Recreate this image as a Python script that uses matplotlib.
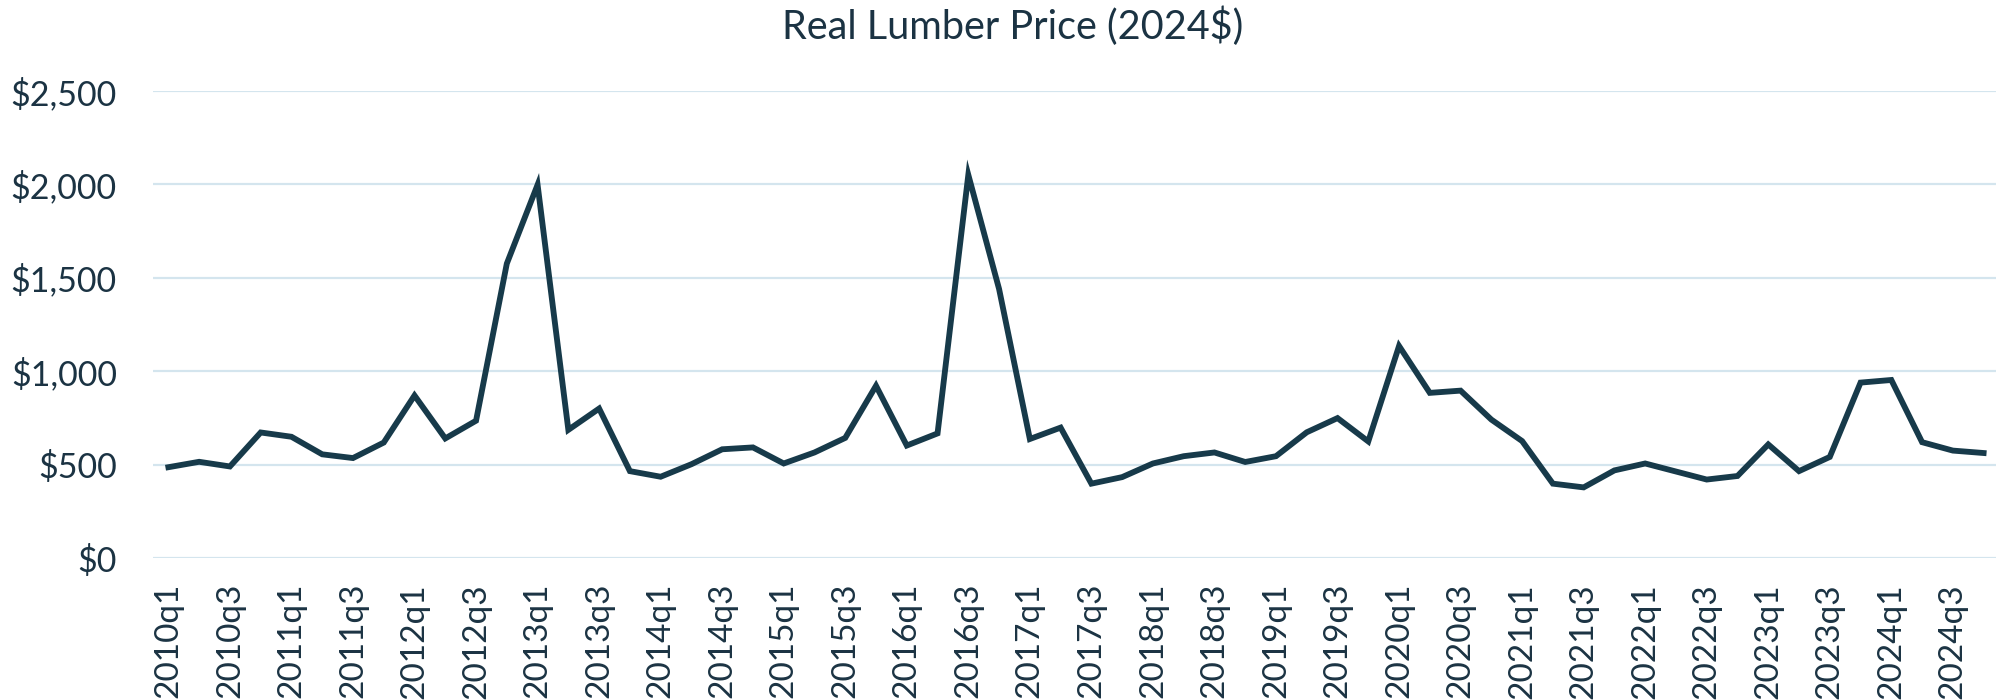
import matplotlib.pyplot as plt
from matplotlib.ticker import FuncFormatter

# quarterly real lumber price, 2010q1 .. 2024q4
quarters = [f"{y}q{q}" for y in range(2010, 2025) for q in range(1, 5)]
price = [
    486, 515, 490, 672, 649, 555, 535, 618,   # 2010-2011
    870, 640, 735, 1576, 1998, 686, 800, 465,  # 2012-2013
    435, 502, 582, 592, 506, 565, 643, 922,    # 2014-2015
    602, 667, 2051, 1440, 637, 698, 398, 433,  # 2016-2017
    506, 545, 565, 514, 545, 673, 749, 624,    # 2018-2019
    1135, 884, 896, 741, 626, 398, 378, 469,   # 2020-2021
    506, 463, 420, 439, 608, 465, 541, 939,    # 2022-2023
    953, 620, 575, 562,                        # 2024
]
yticks = [0, 500, 1000, 1500, 2000, 2500]

text_col = "#1b3343"
line_col = "#173a4a"
grid_col = "#d4e5ee"

plt.rcParams["font.family"] = ["Lato", "DejaVu Sans"]

fig = plt.figure(figsize=(19.96, 7), dpi=100)
ax = fig.add_axes([153 / 1996, 142 / 700, 1846 / 1996, 467 / 700])

x = list(range(len(quarters)))
ax.plot(x, price, color=line_col, lw=4.2, solid_joinstyle="miter", zorder=3)

ax.set_xlim(-0.5, len(quarters) - 0.5)
ax.set_ylim(0, 2500)
ax.set_yticks(yticks)
ax.yaxis.set_major_formatter(FuncFormatter(lambda v, p: f"${v:,.0f}"))
ax.set_xticks(x[::2])
ax.set_xticklabels(quarters[::2], rotation=90)

ax.grid(axis="y", color=grid_col, lw=1.6)
ax.set_axisbelow(True)
for s in ax.spines.values():
    s.set_visible(False)
ax.tick_params(axis="y", length=0, pad=26, labelsize=24.5, labelcolor=text_col)
ax.tick_params(axis="x", length=0, pad=18, labelsize=24, labelcolor=text_col)

fig.text(1013 / 1996, 1 - 39 / 700, "Real Lumber Price (2024$)", ha="center",
         va="baseline", fontsize=28.5, color=text_col)

fig.savefig("out.png", dpi=100)
